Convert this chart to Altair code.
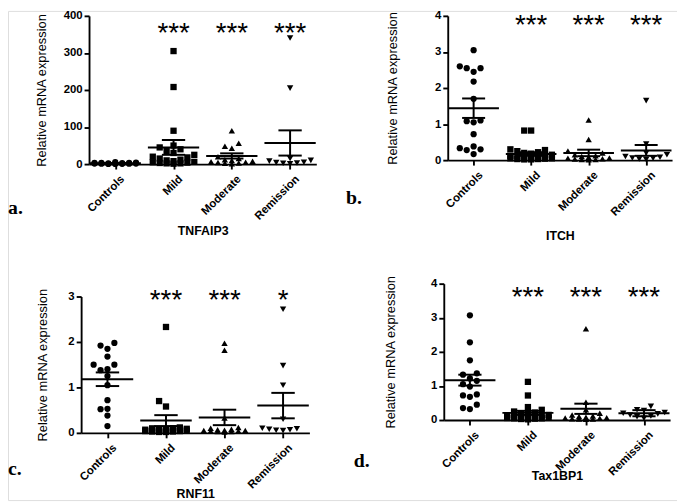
import altair as alt
import pandas as pd
import numpy as np

GROUPS = ["Controls", "Mild", "Moderate", "Remission"]
SHAPES = ["circle", "square", "triangle-up", "triangle-down"]
Y_TITLE = "Relative mRNA expression"

# ---- TNFAIP3 ----
A_CONTROLS = [5, 4, 3.5, 3, 3, 2.5, 2, 2, 1.5, 1.5, 1, 1, 0.8, 0.5, 0.3]
A_MILD = [305, 208, 90, 50, 45, 40, 35, 30, 25, 20, 18, 15, 12, 10, 8, 6, 5, 4, 3, 2, 2, 1]
A_MODERATE = [90, 56, 48, 43, 20, 15, 12, 10, 8, 6, 5, 4, 3, 2, 1]
A_REMISSION = [340, 205, 15, 10, 8, 5, 4, 3, 2, 1]
A_MEAN = [2.2, 45, 22, 57]
A_SEM = [0.4, 20, 7, 34]
A_STARS = ["", "***", "***", "***"]

# ---- ITCH ----
B_CONTROLS = [3.05, 2.60, 2.55, 2.55, 2.45, 2.18, 1.70, 1.10, 1.08, 1.05, 0.72, 0.38, 0.33, 0.30, 0.28, 0.17]
B_MILD = [0.82, 0.82, 0.30, 0.28, 0.25, 0.22, 0.20, 0.18, 0.15, 0.12, 0.10, 0.10, 0.08, 0.07, 0.06, 0.05, 0.05, 0.04, 0.03, 0.03, 0.02, 0.02]
B_MODERATE = [1.11, 0.57, 0.25, 0.20, 0.15, 0.12, 0.10, 0.08, 0.06, 0.05, 0.04, 0.03, 0.02, 0.02, 0.01]
B_REMISSION = [1.65, 0.45, 0.20, 0.15, 0.10, 0.08, 0.06, 0.05, 0.03, 0.02]
B_MEAN = [1.44, 0.17, 0.20, 0.27]
B_SEM = [0.27, 0.05, 0.09, 0.15]
B_STARS = ["", "***", "***", "***"]

# ---- RNF11 ----
C_CONTROLS = [1.98, 1.92, 1.85, 1.68, 1.50, 1.50, 1.40, 1.38, 1.25, 1.05, 0.72, 0.53, 0.52, 0.38, 0.15]
C_MILD = [2.33, 0.70, 0.58, 0.12, 0.10, 0.10, 0.09, 0.08, 0.08, 0.07, 0.07, 0.06, 0.06, 0.05, 0.05, 0.05, 0.04, 0.04, 0.03, 0.03, 0.02, 0.02]
C_MODERATE = [1.97, 1.82, 0.33, 0.12, 0.10, 0.08, 0.07, 0.06, 0.05, 0.05, 0.04, 0.04, 0.03, 0.03, 0.02]
C_REMISSION = [2.72, 1.48, 1.05, 0.30, 0.10, 0.09, 0.08, 0.07, 0.06, 0.05]
C_MEAN = [1.18, 0.27, 0.34, 0.60]
C_SEM = [0.15, 0.12, 0.17, 0.28]
C_STARS = ["", "***", "***", "*"]

# ---- Tax1BP1 ----
D_CONTROLS = [3.07, 2.28, 1.75, 1.37, 1.33, 1.22, 1.15, 1.05, 0.98, 0.75, 0.72, 0.68, 0.45, 0.35, 0.32]
D_MILD = [1.12, 0.72, 0.38, 0.30, 0.25, 0.22, 0.20, 0.18, 0.15, 0.14, 0.12, 0.10, 0.10, 0.09, 0.08, 0.07, 0.06, 0.05, 0.05, 0.04, 0.03, 0.02]
D_MODERATE = [2.68, 0.52, 0.30, 0.20, 0.15, 0.12, 0.10, 0.08, 0.07, 0.06, 0.05, 0.04, 0.03, 0.03, 0.02]
D_REMISSION = [0.40, 0.30, 0.28, 0.22, 0.20, 0.18, 0.15, 0.12, 0.10, 0.05]
D_MEAN = [1.17, 0.21, 0.33, 0.20]
D_SEM = [0.16, 0.06, 0.15, 0.09]
D_STARS = ["", "***", "***", "***"]

W, H = 677, 495
XDOM = [-0.45, 3.45]

PANELS = [
    dict(gene="TNFAIP3", letter="a.", groups=[A_CONTROLS, A_MILD, A_MODERATE, A_REMISSION],
         mean=A_MEAN, sem=A_SEM, stars=A_STARS, ymax=400, ticks=[0, 100, 200, 300, 400], star_y=376,
         box=(82, 312, 155, 5), ytx=-48, xty=67, lx=0, ly=205),
    dict(gene="ITCH", letter="b.", groups=[B_CONTROLS, B_MILD, B_MODERATE, B_REMISSION],
         mean=B_MEAN, sem=B_SEM, stars=B_STARS, ymax=4, ticks=[0, 1, 2, 3, 4], star_y=3.95,
         box=(445, 672, 151, 5), ytx=-56, xty=76, lx=342, ly=195),
    dict(gene="RNF11", letter="c.", groups=[C_CONTROLS, C_MILD, C_MODERATE, C_REMISSION],
         mean=C_MEAN, sem=C_SEM, stars=C_STARS, ymax=3, ticks=[0, 1, 2, 3], star_y=3.1,
         box=(74, 305, 427, 289), ytx=-39, xty=61, lx=0, ly=470),
    dict(gene="Tax1BP1", letter="d.", groups=[D_CONTROLS, D_MILD, D_MODERATE, D_REMISSION],
         mean=D_MEAN, sem=D_SEM, stars=D_STARS, ymax=4, ticks=[0, 1, 2, 3, 4], star_y=3.83,
         box=(441, 670, 414, 276), ytx=-54, xty=56, lx=350, ly=462),
]


def swarm(values, ppu, spacing):
    """Spread points horizontally (GraphPad-style scatter) so markers do not pile up."""
    cands = [0, -7, 7, -14, 14, -21, 21]
    placed = []
    offs = {}
    order = sorted(range(len(values)), key=lambda i: values[i])
    for i in order:
        py = values[i] * ppu
        best, bestd = 0, -1
        for c in cands:
            d = min([np.hypot(c - px, py - qy) for px, qy in placed] or [99])
            if d >= 6.5:
                best, bestd = c, d
                break
            if d > bestd:
                best, bestd = c, d
        placed.append((best, py))
        offs[i] = best / spacing
    return [offs[i] for i in range(len(values))]


label_expr = "[" + ",".join("'%s'" % g for g in GROUPS) + "][datum.value]"

layers = []
for P in PANELS:
    xl, xr, yb, yt = P["box"]
    spacing = (xr - xl) / (XDOM[1] - XDOM[0])
    ppu = (yb - yt) / P["ymax"]
    rows = []
    for gi, vals in enumerate(P["groups"]):
        offs = swarm(vals, ppu, spacing)
        for v, o in zip(vals, offs):
            rows.append({"g": GROUPS[gi], "x": gi + o, "v": v})
    pts_df = pd.DataFrame(rows)
    st = pd.DataFrame({"idx": range(4), "mean": P["mean"], "sem": P["sem"], "star": P["stars"]})
    st["lo"] = st["mean"] - st["sem"]
    st["hi"] = st["mean"] + st["sem"]
    st["m0"] = st["idx"] - 0.44
    st["m1"] = st["idx"] + 0.44
    st["c0"] = st["idx"] - 0.2
    st["c1"] = st["idx"] + 0.2
    st["sy"] = P["star_y"]

    def xs():
        return alt.Scale(domain=XDOM, range=[xl, xr], nice=False, zero=False)

    def ys():
        return alt.Scale(domain=[0, P["ymax"]], range=[yb, yt], nice=False, zero=False)

    xaxis = alt.Axis(orient="bottom", offset=yb - H, values=[0, 1, 2, 3], labelExpr=label_expr,
                     title=P["gene"], grid=False, labelAngle=-45, labelAlign="right",
                     labelBaseline="top", labelPadding=4, labelOffset=3,
                     labelFont="Liberation Sans", labelFontWeight="bold", labelFontSize=11.5,
                     labelColor="black", titleFont="Liberation Sans", titleFontWeight="bold",
                     titleFontSize=12.5, titleColor="black", titleY=P["xty"], titleBaseline="middle",
                     domainColor="black", domainWidth=1.9, tickColor="black", tickWidth=1.9, tickSize=5)
    yaxis = alt.Axis(orient="left", offset=-xl, values=P["ticks"], title=Y_TITLE, grid=False,
                     labelFont="Liberation Sans", labelFontWeight="bold", labelFontSize=11.5,
                     labelColor="black", labelPadding=2, titleFont="Liberation Sans",
                     titleFontWeight="normal", titleFontSize=13, titleColor="black",
                     titleX=P["ytx"], titleBaseline="middle",
                     domainColor="black", domainWidth=1.9, tickColor="black", tickWidth=1.9, tickSize=5)

    layers.append(alt.Chart(pts_df).mark_point(filled=True, opacity=1, color="black").encode(
        x=alt.X("x:Q", scale=xs(), axis=xaxis),
        y=alt.Y("v:Q", scale=ys(), axis=yaxis),
        shape=alt.Shape("g:N", scale=alt.Scale(domain=GROUPS, range=SHAPES), legend=None),
        size=alt.Size("g:N", scale=alt.Scale(domain=GROUPS, range=[40, 42, 50, 50]), legend=None),
    ))
    base = alt.Chart(st)
    layers.append(base.mark_rule(color="black", strokeWidth=2).encode(
        x=alt.X("m0:Q", scale=xs(), axis=None), x2="m1:Q", y=alt.Y("mean:Q", scale=ys(), axis=None)))
    layers.append(base.mark_rule(color="black", strokeWidth=2).encode(
        x=alt.X("idx:Q", scale=xs(), axis=None), y=alt.Y("lo:Q", scale=ys(), axis=None), y2="hi:Q"))
    layers.append(base.mark_rule(color="black", strokeWidth=2).encode(
        x=alt.X("c0:Q", scale=xs(), axis=None), x2="c1:Q", y=alt.Y("hi:Q", scale=ys(), axis=None)))
    layers.append(base.mark_rule(color="black", strokeWidth=2).encode(
        x=alt.X("c0:Q", scale=xs(), axis=None), x2="c1:Q", y=alt.Y("lo:Q", scale=ys(), axis=None)))
    layers.append(base.mark_text(font="Liberation Sans", fontSize=28, color="black", baseline="middle",
                                 align="center", dy=9).encode(
        x=alt.X("idx:Q", scale=xs(), axis=None), y=alt.Y("sy:Q", scale=ys(), axis=None), text="star:N"))
    layers.append(alt.Chart(pd.DataFrame({"t": [P["letter"]]})).mark_text(
        font="Liberation Serif", fontSize=20, fontWeight="bold", color="black",
        align="left", baseline="alphabetic").encode(
        x=alt.value(P["lx"]), y=alt.value(P["ly"]), text="t:N"))

chart = alt.layer(*layers).resolve_scale(
    x="independent", y="independent"
).resolve_axis(
    x="independent", y="independent"
).properties(
    width=W, height=H, autosize=alt.AutoSizeParams(type="none"), padding=0
).configure_view(stroke=None).configure(background="white")

chart.save("out.html", embed_options={"renderer": "svg", "actions": False})
